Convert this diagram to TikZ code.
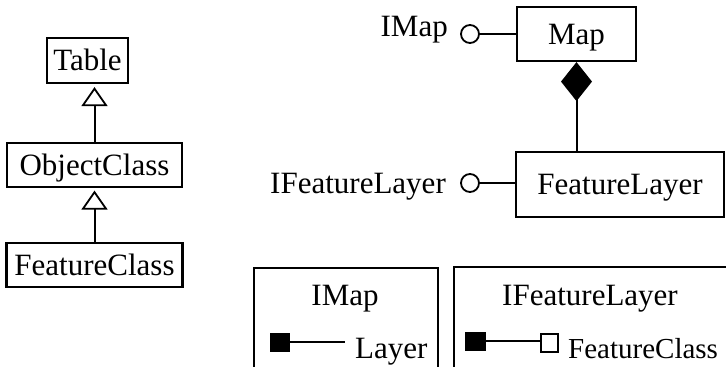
\documentclass[tikz,border=0pt]{standalone}
\usepackage{fontspec}
\setmainfont{Liberation Serif}
\usetikzlibrary{arrows.meta}
\begin{document}
\begin{tikzpicture}[x=1pt,y=-1pt,
  txt/.style={font=\fontsize{31}{37}\selectfont, inner sep=0pt, text height=20pt, text depth=0pt},
  box/.style={txt, draw, line width=2.2pt},
  conn/.style={line width=2pt},
  lolli/.style={circle, draw, line width=1.8pt, minimum size=18pt, inner sep=0pt},
  fsq/.style={draw, fill=black, line width=1pt, inner sep=0pt},
  osq/.style={draw, fill=white, line width=1.6pt, inner sep=0pt},
  frame/.style={draw, line width=2.2pt, inner sep=0pt, anchor=north west},
  inherit/.style={conn, -{Triangle[open, width=26pt, length=19pt, line width=1.8pt]}},
  compose/.style={conn, -{Diamond[width=31pt, length=39pt]}}]
\useasboundingbox (0,0) rectangle (726,367);
\clip (0,0) rectangle (726,367);
% left hierarchy
\node[box, minimum width=81pt, minimum height=45pt] (table) at (87.5,60.5) {Table};
\node[box, minimum width=175pt, minimum height=44pt] (objclass) at (94.5,165) {ObjectClass};
\node[box, minimum width=176pt, minimum height=44pt] (featclass) at (94.5,265) {FeatureClass};
\draw[inherit, shorten >=3pt] (objclass.north) -- (objclass.north |- table.south);
\draw[inherit, shorten >=2.5pt] (featclass.north) -- (objclass.south);
% right classes
\node[box, minimum width=119pt, minimum height=54pt] (map) at (576.5,34) {Map};
\node[box, minimum width=208pt, minimum height=65pt] (flayer) at (620,184.5) {FeatureLayer};
\draw[compose] (map.south |- flayer.north) -- (map.south);
\node[lolli] (imapc) at (470,34) {};
\node[lolli] (iflc) at (470,183) {};
\draw[conn] (imapc.east) -- (imapc -| map.west);
\draw[conn] (iflc.east) -- (iflc -| flayer.west);
\node[txt, anchor=base east] (imapl) at (448,36) {IMap};
\node[txt, anchor=base east] (ifll) at (446,193) {IFeatureLayer};
% interface boxes
\node[frame, minimum width=184pt, minimum height=150pt] (imapbox) at (253,267) {};
\node[frame, minimum width=320pt, minimum height=150pt] (iflbox) at (453,266) {};
\node[txt] (imapt) at (345,295) {IMap};
\node[txt] (iflt) at (590,295) {IFeatureLayer};
\node[fsq, minimum width=19pt, minimum height=18pt] (sq1) at (280,342) {};
\coordinate (l1end) at (345,342);
\draw[conn] (sq1.east) -- (l1end);
\node[txt, anchor=base west] (layer) at (355,358) {Layer};
\node[fsq, minimum width=20pt, minimum height=18pt] (sq2) at (475,341) {};
\node[osq, minimum width=17pt, minimum height=18pt] (osq1) at (549.5,343) {};
\draw[conn] (sq2.east) -- (sq2.east -| osq1.west);
\node[txt, anchor=base west, font=\fontsize{29}{35}\selectfont] (fclass) at (568,358) {FeatureClass};
\end{tikzpicture}
\end{document}
